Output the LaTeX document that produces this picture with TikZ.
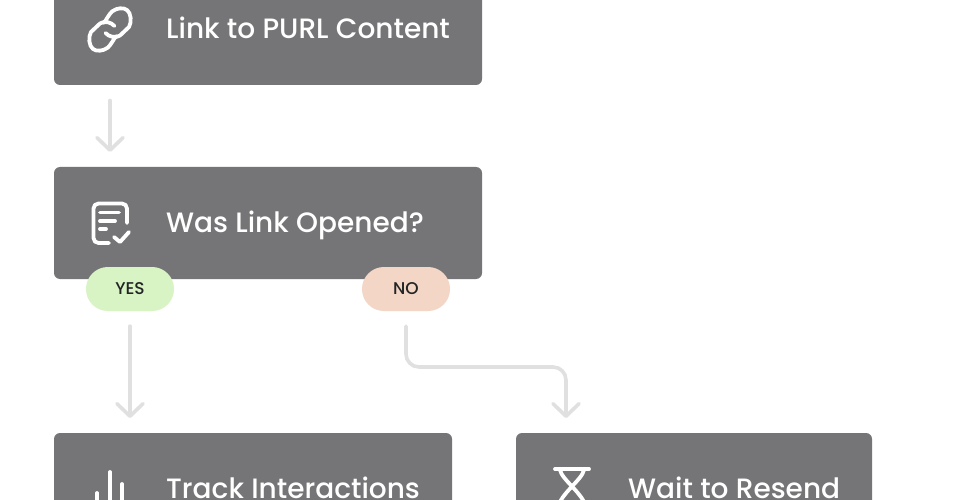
\documentclass[tikz,border=0pt]{standalone}
\usepackage{fontspec}
\setmainfont{Poppins Medium}
\usetikzlibrary{arrows.meta}
\definecolor{boxgray}{HTML}{757577}
\definecolor{flowgray}{HTML}{E0E0E0}
\definecolor{yesgreen}{HTML}{D8F3C4}
\definecolor{nopeach}{HTML}{F3D6C6}
\definecolor{inkdark}{HTML}{222426}
\tikzset{
  x=1pt,y=-1pt,
  cardbox/.style={fill=boxgray,rounded corners=6pt,minimum height=112pt,inner sep=0pt,draw=none},
  cardtext/.style={text=white,font=\fontsize{28}{32}\selectfont,anchor=base west,inner sep=0pt},
  pill/.style={rounded corners=21.9pt,minimum width=88pt,minimum height=44pt,inner sep=0pt,text=inkdark,font=\fontsize{17}{20}\selectfont},
  flow/.style={draw=flowgray,line width=3.6pt,line cap=round,line join=round,rounded corners=13pt,-{Straight Barb[length=12.5pt,width=26pt,line width=3.6pt,round]}},
  iconline/.style={draw=white,line width=3.8pt,line cap=round,line join=round,fill=none},
  softshadow/.style={fill=black,fill opacity=0.0015,draw=none}
}
\newcommand{\softcard}[4]{%
  \foreach \s in {3,6,...,60}{
    \fill[softshadow,rounded corners=\s pt] (#1-\s,#2+14-\s) rectangle (#3+\s,#4+14+\s);
  }%
}
\begin{document}
\begin{tikzpicture}
\useasboundingbox (0,0) rectangle (980,500);
\clip (0,0) rectangle (980,500);
\fill[white] (0,0) rectangle (980,500);
\softcard{54}{-27}{482}{85}
\softcard{54}{167}{482}{279}
\softcard{54}{433}{452}{545}
\softcard{516}{433}{872}{545}
% cards
\node[cardbox,minimum width=428pt] (link) at (268,29) {};
\node[cardbox,minimum width=428pt] (opened) at (268,223) {};
\node[cardbox,minimum width=398pt] (track) at (253,489) {};
\node[cardbox,minimum width=356pt] (wait) at (694,489) {};
\node[cardtext] (linktext) at (166,38.5) {Link to PURL Content};
\node[cardtext] (openedtext) at (166,232.5) {Was Link Opened?};
\node[cardtext] (tracktext) at (166,498.5) {Track Interactions};
\node[cardtext] (waittext) at (628,498.5) {Wait to Resend};
% pills
\node[pill,fill=yesgreen] (yes) at (130,289) {YES};
\node[pill,fill=nopeach] (no) at (406,289) {NO};
% connectors
\coordinate (linkout) at (110,85);
\coordinate (openedin) at (110,152);
\coordinate (trackin) at (130,418);
\coordinate (waitin) at (566,418);
\draw[flow,shorten <=15.5pt] (linkout) -- (openedin);
\draw[flow,shorten <=15pt] (yes.south) -- (trackin);
\draw[flow,shorten <=15pt] (no.south) -- (406,367) -- (566,367) -- (waitin);
% link icon
\draw[iconline] (104,23) .. controls (106,20) and (109,14.5) .. (112,11.5) .. controls (117,7.5) and (124,7.5) .. (127,10) .. controls (131,13) and (132,22) .. (129,27) -- (120,35.5) .. controls (116,38.5) and (109,37) .. (105.5,33);
\draw[iconline] (116,36) .. controls (114,39) and (111,44.5) .. (108,47.5) .. controls (103,51.5) and (96,51.5) .. (93,49) .. controls (89,46) and (88,37) .. (91,32) -- (100,23.5) .. controls (104,20.5) and (111,22) .. (114.5,26);
% document icon
\draw[iconline,rounded corners=5pt] (127,223) -- (127,203.5) -- (93.5,203.5) -- (93.5,243) -- (109,243);
\draw[iconline] (100,212.5) -- (119,212.5);
\draw[iconline] (100,221) -- (115,221);
\draw[iconline] (100,229) -- (106,229);
\draw[iconline] (114,237) -- (120,242) -- (129,232);
% bars icon
\draw[iconline] (97,493) -- (97,520);
\draw[iconline] (110,472) -- (110,520);
\draw[iconline] (122,484) -- (122,520);
% hourglass icon
\draw[iconline] (555,469) -- (589,469);
\draw[iconline] (560,470) .. controls (562,480) and (584,494) .. (586,508);
\draw[iconline] (584,470) .. controls (582,480) and (560,494) .. (558,508);
\end{tikzpicture}
\end{document}
